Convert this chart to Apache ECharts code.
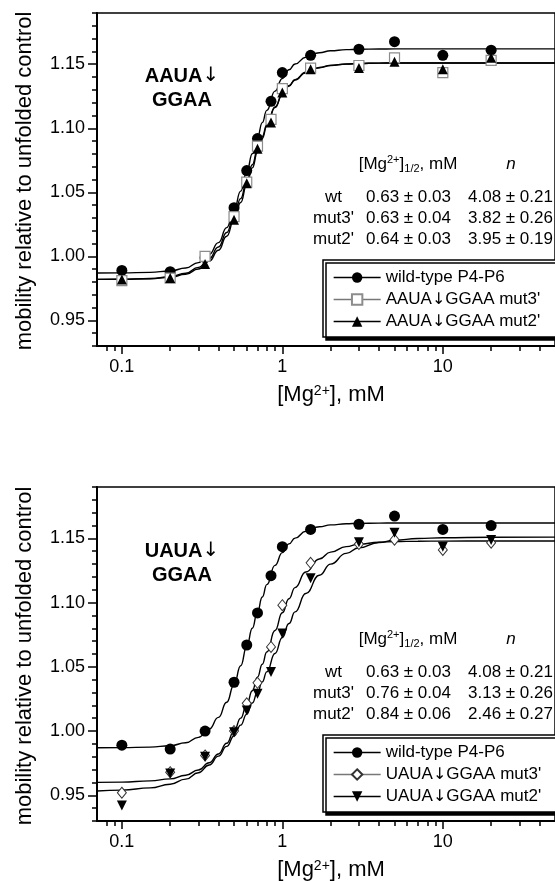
<!DOCTYPE html>
<html><head><meta charset="utf-8">
<script src="https://cdn.jsdelivr.net/npm/echarts@6/dist/echarts.min.js"></script>
<style>html,body{margin:0;padding:0;background:#fff}#c{width:555px;height:881px}</style>
</head><body><div id="c"></div>
<script>
// ---- data (Mg2+ concentration in mM) ----
const conc = [0.1, 0.2, 0.33, 0.5, 0.6, 0.7, 0.85, 1.0, 1.5, 3, 5, 10, 20];
// top panel: AAUA↓GGAA
const topWt   = [0.989, 0.988, 0.999, 1.038, 1.067, 1.092, 1.121, 1.1435, 1.157, 1.1617, 1.1676, 1.157, 1.161];
const topMut3 = [0.981, 0.983, 1.000, 1.031, 1.058, 1.086, 1.107, 1.131, 1.147, 1.149, 1.155, 1.1435, 1.153];
const topMut2 = [0.982, 0.983, 0.994, 1.0285, 1.057, 1.084, 1.1045, 1.128, 1.146, 1.147, 1.152, 1.146, 1.155];
// bottom panel: UAUA↓GGAA
const botWt   = [0.989, 0.986, 1.000, 1.038, 1.067, 1.092, 1.121, 1.1435, 1.157, 1.161, 1.1674, 1.157, 1.160];
const botMut3 = [0.952, 0.968, 0.981, 1.000, 1.0216, 1.0376, 1.0655, 1.098, 1.131, 1.1456, 1.149, 1.141, 1.1466];
const botMut2 = [0.942, 0.967, 0.980, 0.999, 1.016, 1.029, 1.046, 1.076, 1.119, 1.147, 1.1544, 1.1435, 1.1487];
// fitted curves
const fitX = [0.07, 0.1, 0.15, 0.2, 0.25, 0.3, 0.35, 0.4, 0.45, 0.5, 0.55, 0.6, 0.65, 0.7, 0.75, 0.8, 0.9, 1.0, 1.1, 1.2, 1.4, 1.7, 2, 2.5, 3, 4, 5, 7, 10, 20, 50];
const topFitWt   = [0.9870,0.9871,0.9875,0.9886,0.9909,0.9951,1.0016,1.0107,1.0224,1.0361,1.0509,1.0658,1.0801,1.0930,1.1044,1.1140,1.1290,1.1389,1.1457,1.1502,1.1555,1.1590,1.1605,1.1614,1.1617,1.1619,1.1620,1.1620,1.1620,1.1620,1.1620];
const topFitMut3 = [0.9820,0.9821,0.9827,0.9841,0.9868,0.9914,0.9982,1.0073,1.0186,1.0314,1.0451,1.0586,1.0715,1.0833,1.0937,1.1026,1.1166,1.1263,1.1330,1.1377,1.1434,1.1473,1.1490,1.1501,1.1506,1.1509,1.1510,1.1510,1.1510,1.1510,1.1510];
const topFitMut2 = [0.9820,0.9821,0.9825,0.9837,0.9860,0.9901,0.9963,1.0048,1.0157,1.0283,1.0420,1.0558,1.0691,1.0813,1.0921,1.1015,1.1161,1.1263,1.1332,1.1380,1.1437,1.1475,1.1491,1.1502,1.1506,1.1509,1.1510,1.1510,1.1510,1.1510,1.1510];
const botFitWt   = [0.9870,0.9871,0.9875,0.9886,0.9909,0.9951,1.0016,1.0107,1.0224,1.0361,1.0509,1.0658,1.0801,1.0930,1.1044,1.1140,1.1290,1.1389,1.1457,1.1502,1.1555,1.1590,1.1605,1.1614,1.1617,1.1619,1.1620,1.1620,1.1620,1.1620,1.1620];
const botFitMut3 = [0.9601,0.9603,0.9612,0.9628,0.9656,0.9697,0.9753,0.9822,0.9905,0.9999,1.0101,1.0207,1.0314,1.0420,1.0520,1.0615,1.0783,1.0921,1.1030,1.1117,1.1238,1.1340,1.1393,1.1436,1.1455,1.1470,1.1475,1.1478,1.1479,1.1480,1.1480];
const botFitMut2 = [0.9534,0.9540,0.9558,0.9586,0.9626,0.9676,0.9736,0.9805,0.9881,0.9962,1.0046,1.0132,1.0218,1.0302,1.0383,1.0461,1.0604,1.0729,1.0837,1.0928,1.1071,1.1213,1.1300,1.1383,1.1427,1.1468,1.1486,1.1499,1.1505,1.1509,1.1510];
// axis ticks
const xMajorTicks = [0.1, 1, 10];
const xMinorTicks = [0.08, 0.09, 0.2, 0.3, 0.4, 0.5, 0.6, 0.7, 0.8, 0.9, 2, 3, 4, 5, 6, 7, 8, 9, 20, 30, 40];
const yMajorTicks = [0.95, 1.00, 1.05, 1.10, 1.15];
const yMinorTicks = [0.93, 0.94, 0.96, 0.97, 0.98, 0.99, 1.01, 1.02, 1.03, 1.04, 1.06, 1.07, 1.08, 1.09, 1.11, 1.12, 1.13, 1.14, 1.16, 1.17, 1.18, 1.19];
// labels
const seriesNames = {
  wt: 'wild-type P4-P6',
  topMut3: 'AAUA\u2193GGAA mut3\'', topMut2: 'AAUA\u2193GGAA mut2\'',
  botMut3: 'UAUA\u2193GGAA mut3\'', botMut2: 'UAUA\u2193GGAA mut2\''
};
const panelLabels = [['AAUA\u2193', 'GGAA'], ['UAUA\u2193', 'GGAA']];
const tableRows = ['wt', 'mut3\'', 'mut2\''];
const tableHalf = [['0.63 \u00b1 0.03', '0.63 \u00b1 0.04', '0.64 \u00b1 0.03'], ['0.63 \u00b1 0.03', '0.76 \u00b1 0.04', '0.84 \u00b1 0.06']];
const tableN = [['4.08 \u00b1 0.21', '3.82 \u00b1 0.26', '3.95 \u00b1 0.19'], ['4.08 \u00b1 0.21', '3.13 \u00b1 0.26', '2.46 \u00b1 0.27']];

// ---- chart ----
const FONT = 'Liberation Sans, Arial, Helvetica, sans-serif';
const ARROW_FONT = 'DejaVu Sans, sans-serif';
const arrowRich = s => s.replace('\u2193', '{a|\u2193}');
const zip = (xs, ys) => xs.map((x, i) => [x, ys[i]]);
const grids = [
  {left: 97, top: 13, width: 505, height: 333, show: true, borderColor: '#000', borderWidth: 1.5},
  {left: 97, top: 487, width: 505, height: 334, show: true, borderColor: '#000', borderWidth: 1.5}
];
const fmtX = v => String(+(+v).toPrecision(3));
const xAxes = [], yAxes = [];
[0, 1].forEach(gi => {
  xAxes.push({type: 'log', logBase: 10, gridIndex: gi, position: 'bottom', offset: 0, min: 0.07, max: 50,
    axisLine: {show: true, onZero: false, lineStyle: {color: '#000', width: 2}},
    axisTick: {show: true, inside: false, length: 8, customValues: xMajorTicks, lineStyle: {color: '#000', width: 1.5}},
    axisLabel: {show: true, customValues: xMajorTicks, formatter: fmtX, fontSize: 18, fontFamily: FONT, color: '#000', margin: 12},
    splitLine: {show: false}, minorTick: {show: false}});
  xAxes.push({type: 'log', logBase: 10, gridIndex: gi, position: 'bottom', offset: 0, min: 0.07, max: 50,
    axisLine: {show: false, onZero: false},
    axisTick: {show: true, inside: false, length: 5, customValues: xMinorTicks, lineStyle: {color: '#000', width: 1.5}},
    axisLabel: {show: false}, splitLine: {show: false}});
  yAxes.push({type: 'value', gridIndex: gi, position: 'left', offset: 0, min: 0.93, max: 1.19,
    axisLine: {show: true, onZero: false, lineStyle: {color: '#000', width: 2}},
    axisTick: {show: true, inside: false, length: 9, customValues: yMajorTicks, lineStyle: {color: '#000', width: 1.5}},
    axisLabel: {show: true, customValues: yMajorTicks, formatter: v => (+v).toFixed(2), fontSize: 18, fontFamily: FONT, color: '#000', margin: 12},
    splitLine: {show: false}});
  yAxes.push({type: 'value', gridIndex: gi, position: 'left', offset: 0, min: 0.93, max: 1.19,
    axisLine: {show: false, onZero: false},
    axisTick: {show: true, inside: false, length: 5, customValues: yMinorTicks, lineStyle: {color: '#000', width: 1.5}},
    axisLabel: {show: false}, splitLine: {show: false}});
});

function fitSeries(gi, ys) {
  return {type: 'line', xAxisIndex: gi * 2, yAxisIndex: gi * 2, data: zip(fitX, ys),
    showSymbol: false, symbol: 'none', smooth: true, smoothMonotone: 'x', silent: true, z: 2,
    lineStyle: {color: '#000', width: 1.4}, emphasis: {disabled: true}};
}
function pointSeries(gi, name, ys, symbol, size, itemStyle, z, rotate) {
  return {type: 'line', name, xAxisIndex: gi * 2, yAxisIndex: gi * 2, data: zip(conc, ys),
    symbol, symbolSize: size, symbolRotate: rotate || 0, showSymbol: true, showAllSymbol: true, z,
    lineStyle: {width: 0, opacity: 0, color: '#000'}, itemStyle: Object.assign({opacity: 1}, itemStyle),
    emphasis: {disabled: true}, silent: true};
}
const blackFill = {color: '#000', borderColor: '#000', borderWidth: 0};
const series = [
  fitSeries(0, topFitWt), fitSeries(0, topFitMut3), fitSeries(0, topFitMut2),
  fitSeries(1, botFitWt), fitSeries(1, botFitMut3), fitSeries(1, botFitMut2),
  pointSeries(0, seriesNames.wt, topWt, 'circle', 11, blackFill, 5),
  pointSeries(0, seriesNames.topMut3, topMut3, 'rect', 10, {color: '#fff', borderColor: '#8c8c8c', borderWidth: 1.2}, 6),
  pointSeries(0, seriesNames.topMut2, topMut2, 'triangle', 10, blackFill, 7),
  pointSeries(1, seriesNames.wt, botWt, 'circle', 11, blackFill, 5),
  pointSeries(1, seriesNames.botMut3, botMut3, 'diamond', [9, 11], {color: '#fff', borderColor: '#333', borderWidth: 1}, 6),
  pointSeries(1, seriesNames.botMut2, botMut2, 'triangle', 10, blackFill, 7, 180)
];

const legendBase = {
  orient: 'vertical', itemWidth: 47, itemHeight: 13, itemGap: 5,
  padding: [9, 70, 7, 10], backgroundColor: '#fff', borderColor: '#000', borderWidth: 1.5,
  shadowColor: '#000', shadowBlur: 0, shadowOffsetX: 3, shadowOffsetY: 3,
  selectedMode: false,
  formatter: arrowRich,
  textStyle: {fontSize: 17, fontFamily: FONT, color: '#000', lineHeight: 17,
    rich: {a: {fontSize: 16, fontFamily: ARROW_FONT, color: '#000', lineHeight: 17}}}
};
const lsBlack = {color: '#000', width: 1.3, opacity: 1, type: 'solid'};
const lsGray = {color: '#777', width: 1.3, opacity: 1, type: 'solid'};
const legends = [
  Object.assign({}, legendBase, {left: 323, top: 260, data: [
    {name: seriesNames.wt, lineStyle: lsBlack},
    {name: seriesNames.topMut3, lineStyle: lsGray},
    {name: seriesNames.topMut2, lineStyle: lsBlack}]}),
  Object.assign({}, legendBase, {left: 323, top: 735, data: [
    {name: seriesNames.wt, lineStyle: lsBlack},
    {name: seriesNames.botMut3, lineStyle: lsGray},
    {name: seriesNames.botMut2, lineStyle: lsBlack}]})
];

const graphics = [];
[0, 475].forEach((dy, pi) => {
  graphics.push({type: 'text', x: 25, y: 181 + dy, rotation: Math.PI / 2,
    style: {text: 'mobility relative to unfolded control', font: '22px ' + FONT, fill: '#000', textAlign: 'center', textVerticalAlign: 'middle'}});
  graphics.push({type: 'text', x: 331, y: 395 + dy,
    style: {text: '[Mg{sup|2+}], mM', font: '22px ' + FONT, fill: '#000', textAlign: 'center', textVerticalAlign: 'middle',
      rich: {sup: {fontSize: 14, fontFamily: FONT, verticalAlign: 'top', lineHeight: 22, padding: [0, 0, 10, 0]}}}});
  graphics.push({type: 'text', x: 182, y: 76 + dy,
    style: {text: arrowRich(panelLabels[pi][0]), font: 'bold 20px ' + FONT, fill: '#000', textAlign: 'center', textVerticalAlign: 'middle',
      rich: {a: {fontSize: 20, fontFamily: ARROW_FONT, fontWeight: 'normal'}}}});
  graphics.push({type: 'text', x: 182, y: 100 + dy,
    style: {text: panelLabels[pi][1], font: 'bold 20px ' + FONT, fill: '#000', textAlign: 'center', textVerticalAlign: 'middle'}});
  graphics.push({type: 'text', x: 408, y: 164 + dy,
    style: {text: '[Mg{sup|2+}]{sub|1/2}, mM', font: '17px ' + FONT, fill: '#000', textAlign: 'center', textVerticalAlign: 'middle',
      rich: {sup: {fontSize: 11, fontFamily: FONT, padding: [0, 0, 9, 0]}, sub: {fontSize: 11, fontFamily: FONT, padding: [9, 0, 0, 0]}}}});
  graphics.push({type: 'text', x: 511, y: 164 + dy,
    style: {text: 'n', font: 'italic 17px ' + FONT, fill: '#000', textAlign: 'center', textVerticalAlign: 'middle'}});
  tableRows.forEach((r, i) => {
    const y = 197 + i * 21 + dy;
    graphics.push({type: 'text', x: 333.5, y, style: {text: r, font: '17px ' + FONT, fill: '#000', textAlign: 'center', textVerticalAlign: 'middle'}});
    graphics.push({type: 'text', x: 366, y, style: {text: tableHalf[pi][i], font: '17px ' + FONT, fill: '#000', textAlign: 'left', textVerticalAlign: 'middle'}});
    graphics.push({type: 'text', x: 468, y, style: {text: tableN[pi][i], font: '17px ' + FONT, fill: '#000', textAlign: 'left', textVerticalAlign: 'middle'}});
  });
});

const chart = echarts.init(document.getElementById('c'), null, {renderer: 'canvas'});
chart.setOption({
  animation: false, backgroundColor: '#fff',
  textStyle: {fontFamily: FONT},
  grid: grids, xAxis: xAxes, yAxis: yAxes, legend: legends, series, graphic: graphics
});
</script></body></html>
